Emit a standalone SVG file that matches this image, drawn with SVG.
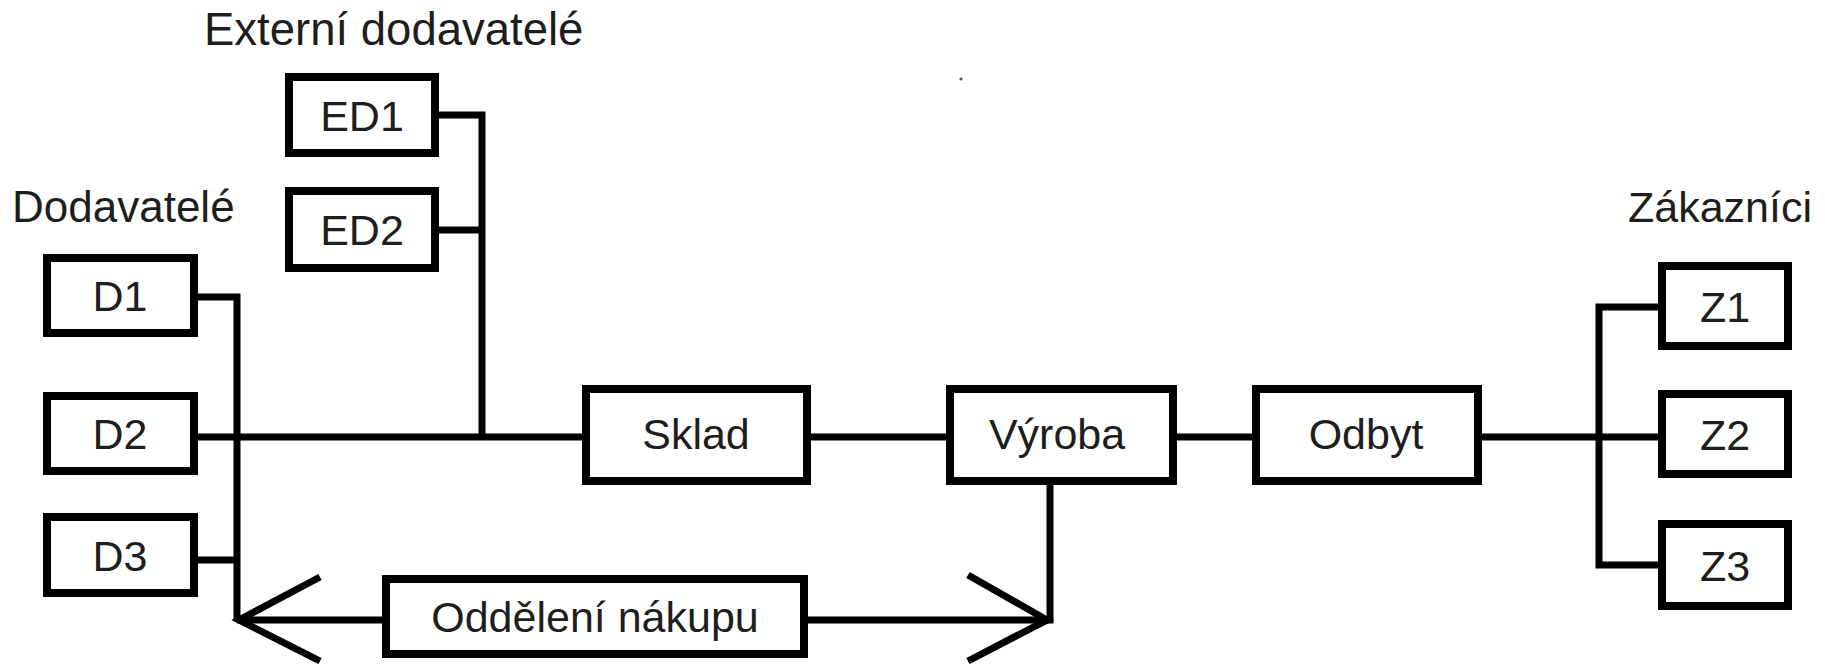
<svg xmlns="http://www.w3.org/2000/svg" width="1825" height="664" viewBox="0 0 1825 664">
<style>
.box{fill:#fff;stroke:#000;stroke-width:8}
.ln{fill:none;stroke:#000;stroke-width:7;stroke-linejoin:miter;stroke-linecap:butt}
.t{font-family:"Liberation Sans",Arial,sans-serif;font-size:43px;fill:#1e1e1e}
.c{text-anchor:middle}
</style>
<rect width="1825" height="664" fill="#fff"/>
<circle cx="961" cy="79" r="1.6" fill="#555"/>
<g id="connectors">
<polyline class="ln" points="439,115 482,115 482,437"/>
<line class="ln" x1="439" y1="230" x2="482" y2="230"/>
<polyline class="ln" points="198,297 237,297 237,620"/>
<line class="ln" x1="198" y1="437" x2="586" y2="437"/>
<line class="ln" x1="198" y1="560" x2="237" y2="560"/>
<line class="ln" x1="807" y1="437" x2="950" y2="437"/>
<line class="ln" x1="1173" y1="437" x2="1256" y2="437"/>
<line class="ln" x1="1478" y1="437" x2="1662" y2="437"/>
<polyline class="ln" points="1662,307 1599,307 1599,565 1662,565"/>
<polyline class="ln" points="1050,481 1050,620 804,620"/>
<line class="ln" x1="237" y1="620" x2="386" y2="620"/>
<polyline class="ln" points="320,577 239,620 320,661"/>
<polyline class="ln" points="968,575 1047,620 968,661"/>
</g>
<text class="t" x="204" y="45" style="font-size:45.5px">Externí dodavatelé</text>
<text class="t" x="12" y="222" style="font-size:44px">Dodavatelé</text>
<text class="t" x="1628" y="222">Zákazníci</text>
<g id="ED1"><rect class="box" x="289" y="77" width="146" height="76"/><text class="t c" x="362" y="131">ED1</text></g>
<g id="ED2"><rect class="box" x="289" y="191" width="146" height="77"/><text class="t c" x="362" y="245">ED2</text></g>
<g id="D1"><rect class="box" x="47" y="258" width="147" height="75"/><text class="t c" x="120" y="311">D1</text></g>
<g id="D2"><rect class="box" x="47" y="396" width="147" height="75"/><text class="t c" x="120" y="449">D2</text></g>
<g id="D3"><rect class="box" x="47" y="517" width="147" height="76"/><text class="t c" x="120" y="571">D3</text></g>
<g id="Sklad"><rect class="box" x="586" y="389" width="221" height="92"/><text class="t c" x="696" y="449">Sklad</text></g>
<g id="Vyroba"><rect class="box" x="950" y="389" width="223" height="92"/><text class="t c" x="1057" y="449">Výroba</text></g>
<g id="Odbyt"><rect class="box" x="1256" y="389" width="222" height="92"/><text class="t c" x="1366" y="449">Odbyt</text></g>
<g id="Z1"><rect class="box" x="1662" y="266" width="126" height="80"/><text class="t c" x="1725" y="322">Z1</text></g>
<g id="Z2"><rect class="box" x="1662" y="394" width="126" height="80"/><text class="t c" x="1725" y="450">Z2</text></g>
<g id="Z3"><rect class="box" x="1662" y="524" width="126" height="82"/><text class="t c" x="1725" y="581">Z3</text></g>
<g id="Oddeleni"><rect class="box" x="386" y="579" width="418" height="75"/><text class="t c" x="595" y="632">Oddělení nákupu</text></g>
</svg>
